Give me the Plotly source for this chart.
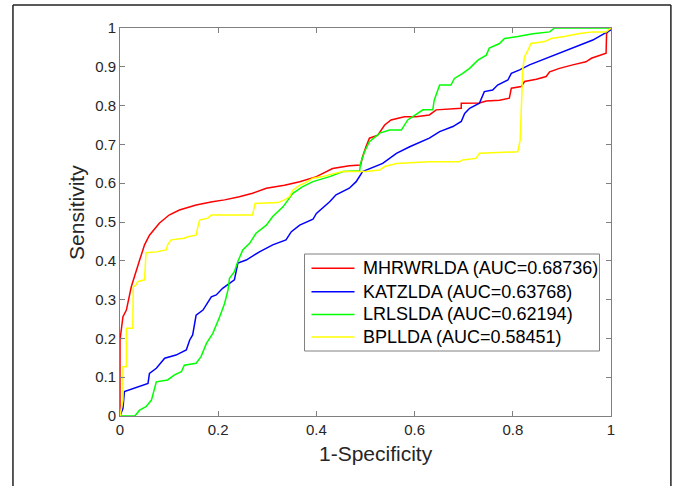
import plotly.graph_objects as go

# ---------------- data ----------------
method_names = ["MHRWRLDA", "KATZLDA", "LRLSLDA", "BPLLDA"]
auc_values = [0.68736, 0.63768, 0.62194, 0.58451]
line_colors = ["#FF0000", "#0000FF", "#00FF00", "#FFFF00"]

mhrwrlda_fpr = [0, 0, 0.006, 0.013, 0.023, 0.03, 0.04, 0.05, 0.06, 0.08, 0.10, 0.121, 0.155, 0.188,
                0.213, 0.243, 0.27, 0.298, 0.335, 0.366, 0.40, 0.433, 0.467, 0.490, 0.494, 0.501,
                0.508, 0.525, 0.539, 0.552, 0.579, 0.603, 0.63, 0.644, 0.695, 0.695, 0.732, 0.746,
                0.773, 0.793, 0.797, 0.817, 0.824, 0.848, 0.868, 0.875, 0.895, 0.922, 0.949, 0.96,
                0.99, 0.991, 1.0]
mhrwrlda_tpr = [0, 0.196, 0.256, 0.273, 0.333, 0.359, 0.402, 0.441, 0.466, 0.497, 0.518, 0.531, 0.544,
                0.552, 0.557, 0.565, 0.574, 0.587, 0.595, 0.604, 0.617, 0.638, 0.645, 0.647, 0.668,
                0.694, 0.716, 0.724, 0.75, 0.763, 0.771, 0.771, 0.776, 0.789, 0.793, 0.806, 0.807,
                0.812, 0.814, 0.819, 0.845, 0.849, 0.862, 0.868, 0.875, 0.887, 0.896, 0.905, 0.913,
                0.922, 0.935, 0.986, 1.0]

katzlda_fpr = [0, 0.003, 0.006, 0.009, 0.019, 0.04, 0.057, 0.06, 0.074, 0.091, 0.114, 0.135, 0.142,
               0.148, 0.155, 0.169, 0.176, 0.186, 0.196, 0.209, 0.223, 0.233, 0.24, 0.257, 0.284,
               0.311, 0.338, 0.349, 0.366, 0.393, 0.40, 0.427, 0.44, 0.467, 0.481, 0.494, 0.535,
               0.563, 0.59, 0.63, 0.651, 0.678, 0.695, 0.702, 0.712, 0.732, 0.742, 0.759, 0.769,
               0.79, 0.797, 0.814, 0.834, 0.875, 0.922, 0.963, 0.987, 1.0]
katzlda_tpr = [0, 0.01, 0.02, 0.063, 0.067, 0.076, 0.084, 0.11, 0.123, 0.149, 0.157, 0.17, 0.196,
               0.209, 0.26, 0.273, 0.286, 0.307, 0.312, 0.329, 0.342, 0.351, 0.394, 0.402, 0.423,
               0.441, 0.454, 0.475, 0.492, 0.507, 0.522, 0.552, 0.57, 0.587, 0.604, 0.63, 0.651,
               0.677, 0.694, 0.716, 0.733, 0.746, 0.759, 0.78, 0.793, 0.806, 0.836, 0.84, 0.853,
               0.866, 0.883, 0.892, 0.905, 0.926, 0.948, 0.969, 0.986, 0.995]

lrlslda_fpr = [0, 0.03, 0.04, 0.053, 0.064, 0.07, 0.074, 0.097, 0.111, 0.125, 0.131, 0.155, 0.165,
               0.176, 0.189, 0.203, 0.213, 0.22, 0.223, 0.233, 0.24, 0.25, 0.264, 0.277, 0.298,
               0.311, 0.332, 0.352, 0.372, 0.393, 0.427, 0.454, 0.488, 0.490, 0.498, 0.508, 0.529,
               0.549, 0.573, 0.586, 0.603, 0.617, 0.637, 0.64, 0.651, 0.674, 0.681, 0.698, 0.712,
               0.729, 0.746, 0.752, 0.773, 0.783, 0.81, 0.841, 0.875, 0.885, 1.0]
lrlslda_tpr = [0, 0, 0.015, 0.024, 0.041, 0.067, 0.088, 0.093, 0.106, 0.114, 0.131, 0.136, 0.153,
               0.187, 0.213, 0.256, 0.29, 0.325, 0.355, 0.372, 0.398, 0.428, 0.445, 0.471, 0.492,
               0.514, 0.539, 0.574, 0.591, 0.604, 0.617, 0.63, 0.632, 0.651, 0.681, 0.707, 0.729,
               0.737, 0.737, 0.763, 0.776, 0.789, 0.789, 0.814, 0.853, 0.853, 0.87, 0.883, 0.896,
               0.917, 0.93, 0.948, 0.96, 0.973, 0.978, 0.985, 0.99, 1.0, 1.0]

bpllda_fpr = [0, 0.006, 0.006, 0.013, 0.013, 0.026, 0.027, 0.033, 0.036, 0.05, 0.053, 0.074, 0.094,
              0.097, 0.104, 0.131, 0.138, 0.155, 0.158, 0.162, 0.179, 0.186, 0.27, 0.275, 0.322,
              0.335, 0.345, 0.352, 0.366, 0.376, 0.393, 0.413, 0.433, 0.454, 0.501, 0.529, 0.539,
              0.563, 0.63, 0.691, 0.698, 0.725, 0.732, 0.78, 0.81, 0.815, 0.817, 0.819, 0.82, 0.824,
              0.831, 0.837, 0.865, 0.878, 0.905, 0.922, 0.936, 0.963, 0.99, 1.0]
bpllda_tpr = [0, 0.041, 0.127, 0.127, 0.226, 0.226, 0.333, 0.338, 0.346, 0.351, 0.421, 0.423, 0.428,
              0.441, 0.454, 0.458, 0.462, 0.466, 0.484, 0.505, 0.51, 0.518, 0.518, 0.548, 0.55,
              0.557, 0.565, 0.582, 0.595, 0.6, 0.613, 0.617, 0.624, 0.63, 0.63, 0.634, 0.643,
              0.651, 0.655, 0.655, 0.66, 0.664, 0.677, 0.679, 0.681, 0.711, 0.763, 0.849, 0.892,
              0.926, 0.943, 0.96, 0.965, 0.973, 0.978, 0.982, 0.986, 0.99, 0.99, 1.0]

x_tick_vals = [0, 0.2, 0.4, 0.6, 0.8, 1]
x_tick_text = ["0", "0.2", "0.4", "0.6", "0.8", "1"]
y_tick_vals = [0, 0.1, 0.2, 0.3, 0.4, 0.5, 0.6, 0.7, 0.8, 0.9, 1]
y_tick_text = ["0", "0.1", "0.2", "0.3", "0.4", "0.5", "0.6", "0.7", "0.8", "0.9", "1"]

x_title = "1-Specificity"
y_title = "Sensitivity"

# ---------------- figure ----------------
FONT = "Liberation Sans, Arial, Helvetica, sans-serif"
AXIS_COLOR = "#262626"

fprs = [mhrwrlda_fpr, katzlda_fpr, lrlslda_fpr, bpllda_fpr]
tprs = [mhrwrlda_tpr, katzlda_tpr, lrlslda_tpr, bpllda_tpr]
labels = [f"{n} (AUC={a:.5f})" for n, a in zip(method_names, auc_values)]

fig = go.Figure()
for label, color, fx, fy in zip(labels, line_colors, fprs, tprs):
    fig.add_trace(go.Scatter(
        x=fx, y=fy, mode="lines",
        line=dict(color=color, width=1.5),
        name=label, showlegend=False,
    ))

axis_common = dict(
    range=[0, 1], showgrid=False, zeroline=False,
    showline=True, linecolor="#808080", linewidth=1,
    mirror="ticks", ticks="inside", ticklen=5, tickcolor="#808080",
    tickfont=dict(family=FONT, size=15, color=AXIS_COLOR),
    automargin=False,
)

fig.update_layout(
    width=675, height=486,
    margin=dict(l=120, r=64, t=28, b=70),
    paper_bgcolor="white", plot_bgcolor="white",
    font=dict(family=FONT, color=AXIS_COLOR),
    xaxis=dict(axis_common, tickvals=x_tick_vals, ticktext=x_tick_text),
    yaxis=dict(axis_common, tickvals=y_tick_vals, ticktext=y_tick_text),
    showlegend=False,
)

# axis titles (placed as in the reference, slightly off-centre)
fig.add_annotation(xref="paper", yref="paper", x=0.521, y=-0.0954, xanchor="center", yanchor="middle",
                   text=x_title, showarrow=False, font=dict(family=FONT, size=21, color=AXIS_COLOR))
fig.add_annotation(xref="paper", yref="paper", x=-0.0876, y=0.526, xanchor="center", yanchor="middle",
                   text=y_title, textangle=-90, showarrow=False,
                   font=dict(family=FONT, size=21, color=AXIS_COLOR))

# legend box (drawn in the plot-area paper frame)
lg_x0, lg_x1, lg_y0, lg_y1 = 0.3758, 0.9766, 0.1675, 0.4175
fig.add_shape(type="rect", xref="paper", yref="paper", x0=lg_x0, x1=lg_x1, y0=lg_y0, y1=lg_y1,
              line=dict(color="#808080", width=1), fillcolor="white", layer="above")
entry_y = [0.3807, 0.3204, 0.2616, 0.2036]
for label, color, ey in zip(labels, line_colors, entry_y):
    fig.add_shape(type="line", xref="paper", yref="paper", x0=0.390, x1=0.4776, y0=ey, y1=ey,
                  line=dict(color=color, width=1.5), layer="above")
    fig.add_annotation(xref="paper", yref="paper", x=0.4918, y=ey, xanchor="left", yanchor="middle",
                       text=label, showarrow=False,
                       font=dict(family=FONT, size=18, color="black"))

# outer figure frame
fx0, fx1 = -0.218, 1.122
fy_top, fy_bot = 1.059, -0.25
frame = dict(type="line", xref="paper", yref="paper", line=dict(color="#222222", width=1.5))
fig.add_shape(frame, x0=fx0, x1=fx0, y0=fy_bot, y1=fy_top)
fig.add_shape(frame, x0=fx0, x1=fx1, y0=fy_top, y1=fy_top)
fig.add_shape(frame, x0=fx1, x1=fx1, y0=fy_bot, y1=fy_top)

# remove the default 8px page margin so the 675x486 figure fills the window exactly
fig.write_html(
    "out.html",
    config={"displayModeBar": False, "staticPlot": True},
    post_script="document.body.style.margin='0';document.body.style.overflow='hidden';",
)
